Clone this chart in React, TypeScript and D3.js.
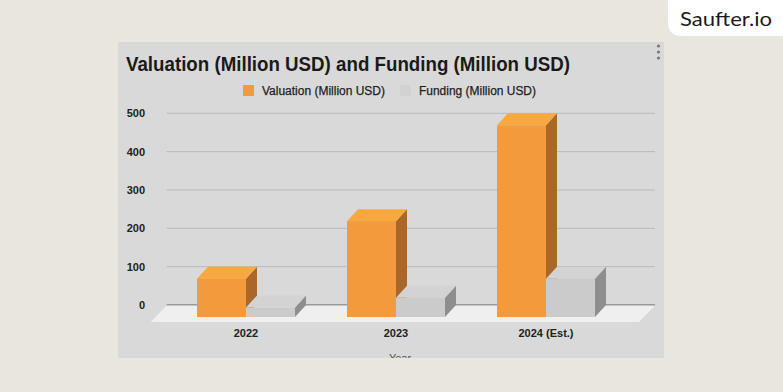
import { scaleBand, scaleLinear } from "d3";

const categories = ["2022", "2023", "2024 (Est.)"];
const seriesNames = ["Valuation (Million USD)", "Funding (Million USD)"];
const valuation = [100, 250, 500];
const funding = [25, 50, 100];
const yTicks = [0, 100, 200, 300, 400, 500];

const faces = [
  { front: "#f39a3d", top: "#f7a83e", side: "#a9672a" },
  { front: "#cbcbcb", top: "#d3d3d3", side: "#8e8e8e" },
];

const App: React.FC = () => {
  const W = 783;
  const H = 392;
  const panel = { x: 118, y: 42, w: 546, h: 316 };
  // depth of a bar (oblique projection)
  const dx = 11;
  const dy = -12;

  // value scale on the back wall
  const scaleY = scaleLinear().domain([0, 500]).range([305, 113.3]);

  // front face positions
  const scaleX = scaleBand()
    .domain(categories)
    .range([171, 621])
    .paddingInner(0.347)
    .paddingOuter(0.1735);
  const scaleS = scaleBand().domain(seriesNames).range([0, scaleX.bandwidth()]);

  const series = [valuation, funding];
  const font = "'Liberation Sans', Arial, sans-serif";
  const wallL = 166.7;
  const wallR = 655;

  return (
    <svg width={W} height={H} style={{ position: "absolute", left: 0, top: 0 }}>
      <rect x={0} y={0} width={W} height={H} fill="#e9e7dd" />
      <defs>
        <clipPath id="panelClip">
          <rect x={panel.x} y={panel.y} width={panel.w} height={panel.h} />
        </clipPath>
      </defs>
      <g clipPath="url(#panelClip)">
        <rect x={panel.x} y={panel.y} width={panel.w} height={panel.h} fill="#d9d9d9" />
        <text x={126} y={70.5} fontFamily={font} fontWeight="bold" fontSize={20.5}
          fill="#1a1a1a" textLength={444} lengthAdjust="spacingAndGlyphs">
          Valuation (Million USD) and Funding (Million USD)
        </text>
        {/* legend */}
        <rect x={243} y={85} width={11} height={11} fill={faces[0].front} />
        <text x={262} y={94.5} fontFamily={font} fontSize={12} fill="#1e1e1e"
          stroke="#1e1e1e" strokeWidth={0.25}
          textLength={123} lengthAdjust="spacingAndGlyphs">{seriesNames[0]}</text>
        <rect x={400} y={85} width={11} height={11} fill="#d2d2d2" />
        <text x={419} y={94.5} fontFamily={font} fontSize={12} fill="#1e1e1e"
          stroke="#1e1e1e" strokeWidth={0.25}
          textLength={117} lengthAdjust="spacingAndGlyphs">{seriesNames[1]}</text>

        {/* gridlines + y labels */}
        {yTicks.map((t) => (
          <g key={`tick-${t}`}>
            <line x1={wallL} x2={wallR} y1={scaleY(t)} y2={scaleY(t)}
              stroke={t === 0 ? "#5a5a5a" : "#bababa"} strokeWidth={t === 0 ? 1.2 : 1} />
            <text x={145} y={scaleY(t) + 4} textAnchor="end" fontFamily={font}
              fontWeight="bold" fontSize={11} fill="#222">{t}</text>
          </g>
        ))}

        {/* floor */}
        <polygon
          points={`${wallL},${scaleY(0) + 0.5} ${wallR},${scaleY(0) + 0.5} ${wallR - 16},${scaleY(0) + 17} ${wallL - 16},${scaleY(0) + 17}`}
          fill="#efefef" />

        {/* bars */}
        {categories.map((c, ci) => (
          <g key={`grp-${c}`}>
            {seriesNames.map((s, si) => {
              const v = series[si][ci];
              const x0 = (scaleX(c) ?? 0) + (scaleS(s) ?? 0);
              const x1 = x0 + scaleS.bandwidth();
              const yb = scaleY(0) - dy;
              const yt = scaleY(v) - dy;
              const f = faces[si];
              return (
                <g key={`bar-${c}-${s}`}>
                  <polygon points={`${x1},${yt} ${x1 + dx},${yt + dy} ${x1 + dx},${yb + dy} ${x1},${yb}`} fill={f.side} />
                  <polygon points={`${x0},${yt} ${x1},${yt} ${x1 + dx},${yt + dy} ${x0 + dx},${yt + dy}`} fill={f.top} />
                  <rect x={x0} y={yt} width={x1 - x0} height={yb - yt} fill={f.front} />
                </g>
              );
            })}
            <text x={(scaleX(c) ?? 0) + scaleX.bandwidth() / 2} y={337} textAnchor="middle"
              fontFamily={font} fontWeight="bold" fontSize={11} fill="#222">{c}</text>
          </g>
        ))}

        <text x={400} y={362} textAnchor="middle" fontFamily={font} fontSize={11} fill="#555">Year</text>

        {/* menu dots */}
        {[46, 52, 58].map((cy) => (
          <circle key={`dot-${cy}`} cx={658.5} cy={cy} r={1.6} fill="#777" />
        ))}
      </g>

      {/* brand badge */}
      <path d={`M668,0 H${W} V36 H682 Q668,36 668,22 Z`} fill="#ffffff" />
      <text x={680} y={26} fontFamily="Lato, 'Noto Sans', sans-serif" fontSize={19}
        fill="#1a1a1a" textLength={92} lengthAdjust="spacingAndGlyphs">Saufter.io</text>
    </svg>
  );
};

export default App;
